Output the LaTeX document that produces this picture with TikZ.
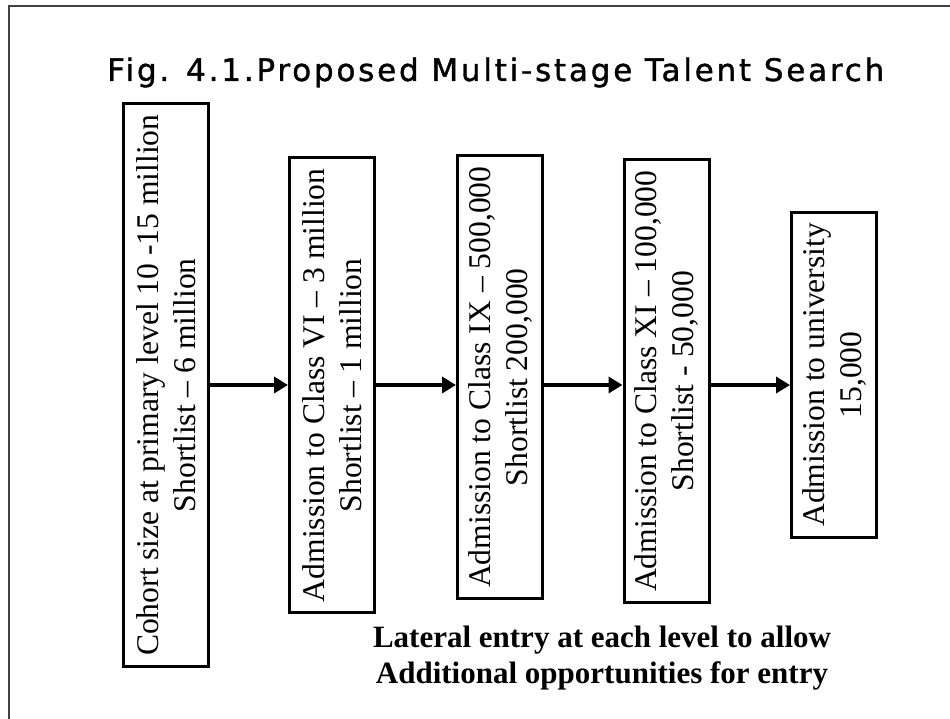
\documentclass[tikz,border=0pt]{standalone}
\usepackage{fontspec}
\setmainfont{Liberation Serif}
\newfontfamily\titlefont[LetterSpace=9,FakeBold=1.2]{DejaVu Sans}
\usepackage{tikz}
\usetikzlibrary{arrows.meta}
\definecolor{khungxam}{rgb}{0.25,0.25,0.25}

\begin{document}
\begin{tikzpicture}[x=1pt,y=-1pt,
		hop/.style={draw,line width=3pt,rotate=90,anchor=east,align=center,inner xsep=10.5pt,inner ysep=0pt,minimum height=85pt,font=\fontsize{31.6}{37}\selectfont},
		muiten/.style={line width=4pt,-{Triangle[length=14pt,width=16pt]}},
		chudam/.style={anchor=base,inner sep=0pt,font=\fontsize{31}{36}\selectfont\bfseries}]
	\useasboundingbox (0,0) rectangle (950,719);
	\draw [khungxam,line width=2pt] (9,719)-- (9,6)-- (950,6);
	\node [anchor=base west,inner sep=0pt,font=\titlefont\fontsize{31}{36}\selectfont] (tieude) at (107,81) {Fig. 4.1.Proposed Multi-stage Talent Search};
	\node [hop] (b1) at (166,102.5) {Cohort size at primary level 10 -15 million\\Shortlist -- 6 million};
	\node [hop] (b2) at (332,156.5) {Admission to Class VI -- 3 million\\Shortlist -- 1 million};
	\node [hop] (b3) at (500,154.5) {Admission to Class IX -- 500,000\\Shortlist 200,000};
	\node [hop] (b4) at (666.5,158.5) {Admission to Class XI -- 100,000\\Shortlist - 50,000};
	\node [hop] (b5) at (834,211) {Admission to university\\15,000};
	\coordinate (mucten) at (0,385);
	\draw [muiten] (b1.south |- mucten)-- (b2.north |- mucten);
	\draw [muiten] (b2.south |- mucten)-- (b3.north |- mucten);
	\draw [muiten] (b3.south |- mucten)-- (b4.north |- mucten);
	\draw [muiten] (b4.south |- mucten)-- (b5.north |- mucten);
	\node [chudam] (ghichu1) at (602,647) {Lateral entry at each level to allow};
	\node [chudam] (ghichu2) at (602,683) {Additional opportunities for entry};
\end{tikzpicture}
\end{document}
